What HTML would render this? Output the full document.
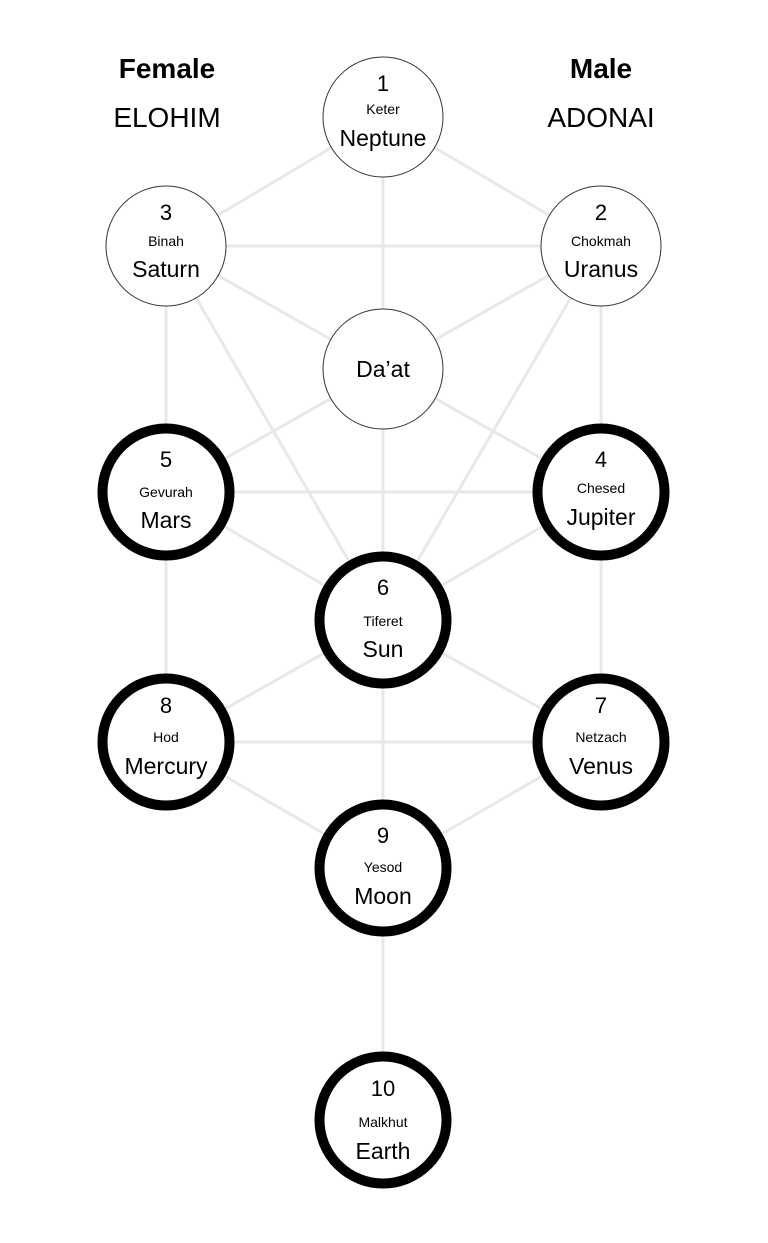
<!DOCTYPE html>
<html><head><meta charset="utf-8"><style>
html,body{margin:0;padding:0;background:#fff;}
svg{display:block;}
text{font-family:"Liberation Sans",sans-serif;fill:#000;text-anchor:middle;}
</style></head><body>
<svg width="768" height="1243" viewBox="0 0 768 1243" xmlns="http://www.w3.org/2000/svg">
<g stroke="#e8e8e8" stroke-width="3">
<line x1="383" y1="117" x2="166" y2="246"/>
<line x1="383" y1="117" x2="601" y2="246"/>
<line x1="383" y1="117" x2="383" y2="1120"/>
<line x1="166" y1="246" x2="601" y2="246"/>
<line x1="166" y1="246" x2="166" y2="742"/>
<line x1="601" y1="246" x2="601" y2="742"/>
<line x1="166" y1="246" x2="383" y2="369"/>
<line x1="601" y1="246" x2="383" y2="369"/>
<line x1="166" y1="246" x2="383" y2="620"/>
<line x1="601" y1="246" x2="383" y2="620"/>
<line x1="383" y1="369" x2="166" y2="492"/>
<line x1="383" y1="369" x2="601" y2="492"/>
<line x1="166" y1="492" x2="601" y2="492"/>
<line x1="166" y1="492" x2="383" y2="620"/>
<line x1="601" y1="492" x2="383" y2="620"/>
<line x1="383" y1="620" x2="166" y2="742"/>
<line x1="383" y1="620" x2="601" y2="742"/>
<line x1="166" y1="742" x2="601" y2="742"/>
<line x1="166" y1="742" x2="383" y2="868"/>
<line x1="601" y1="742" x2="383" y2="868"/>
</g>
<g fill="#fff" stroke="#333" stroke-width="1">
<circle cx="383" cy="117" r="60"/>
<circle cx="166" cy="246" r="60"/>
<circle cx="601" cy="246" r="60"/>
<circle cx="383" cy="369" r="60"/>
</g>
<g fill="#fff" stroke="#000" stroke-width="10">
<circle cx="166" cy="492" r="63.5"/>
<circle cx="601" cy="492" r="63.5"/>
<circle cx="383" cy="620" r="63.5"/>
<circle cx="166" cy="742" r="63.5"/>
<circle cx="601" cy="742" r="63.5"/>
<circle cx="383" cy="868" r="63.5"/>
<circle cx="383" cy="1120" r="63.5"/>
</g>
<text x="167" y="78" font-size="28" font-weight="bold">Female</text>
<text x="167" y="127" font-size="28">ELOHIM</text>
<text x="601" y="78" font-size="28" font-weight="bold">Male</text>
<text x="601" y="127" font-size="28">ADONAI</text>
<g>
<text x="383" y="91" font-size="22">1</text><text x="383" y="114" font-size="14">Keter</text><text x="383" y="146" font-size="23">Neptune</text>
<text x="166" y="220" font-size="22">3</text><text x="166" y="246" font-size="14">Binah</text><text x="166" y="277" font-size="23">Saturn</text>
<text x="601" y="220" font-size="22">2</text><text x="601" y="246" font-size="14">Chokmah</text><text x="601" y="277" font-size="23">Uranus</text>
<text x="383" y="377" font-size="23">Da’at</text>
<text x="166" y="467" font-size="22">5</text><text x="166" y="497" font-size="14">Gevurah</text><text x="166" y="528" font-size="23">Mars</text>
<text x="601" y="467" font-size="22">4</text><text x="601" y="493" font-size="14">Chesed</text><text x="601" y="525" font-size="23">Jupiter</text>
<text x="383" y="595" font-size="22">6</text><text x="383" y="626" font-size="14">Tiferet</text><text x="383" y="657" font-size="23">Sun</text>
<text x="166" y="713" font-size="22">8</text><text x="166" y="742" font-size="14">Hod</text><text x="166" y="774" font-size="23">Mercury</text>
<text x="601" y="713" font-size="22">7</text><text x="601" y="742" font-size="14">Netzach</text><text x="601" y="774" font-size="23">Venus</text>
<text x="383" y="843" font-size="22">9</text><text x="383" y="872" font-size="14">Yesod</text><text x="383" y="904" font-size="23">Moon</text>
<text x="383" y="1096" font-size="22">10</text><text x="383" y="1127" font-size="14">Malkhut</text><text x="383" y="1159" font-size="23">Earth</text>
</g>
</svg>
</body></html>
